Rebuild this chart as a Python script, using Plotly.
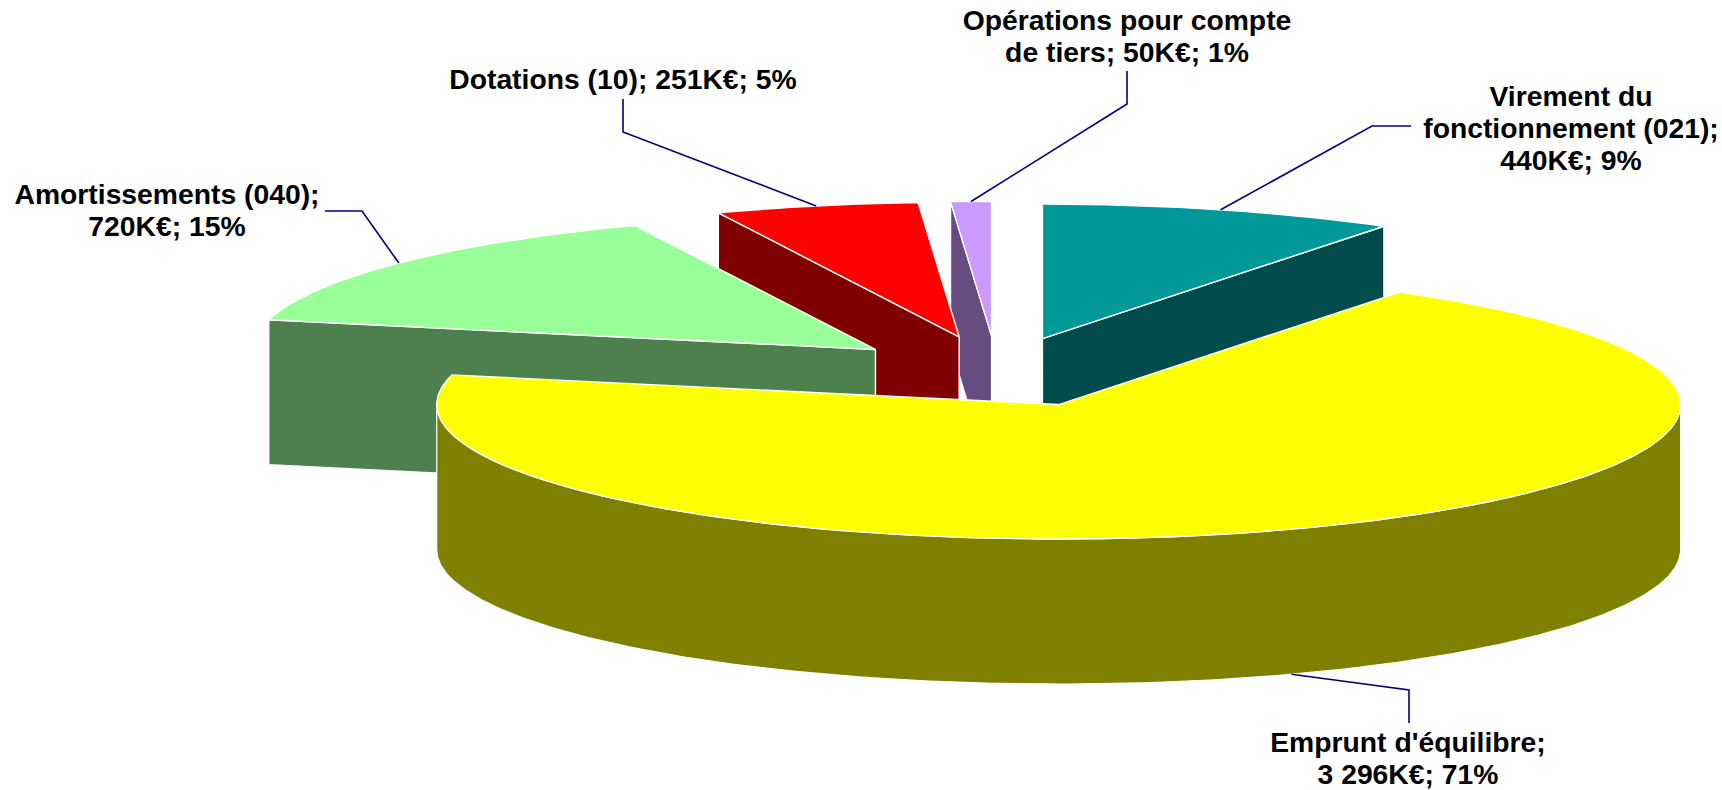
import math
import plotly.graph_objects as go

# ---------- data ----------
names = ["Virement du fonctionnement (021)", "Emprunt d'équilibre", "Amortissements (040)",
         "Dotations (10)", "Opérations pour compte de tiers"]
values = [440, 3296, 720, 251, 50]
top_colors = ["#009999", "#FFFF00", "#99FF99", "#FF0000", "#CC99FF"]
side_colors = ["#004C4C", "#808000", "#4D804D", "#800000", "#664C80"]
label_lines = [
    ["Virement du", "fonctionnement (021);", "440K€; 9%"],
    ["Emprunt d'équilibre;", "3 296K€; 71%"],
    ["Amortissements (040);", "720K€; 15%"],
    ["Dotations (10); 251K€; 5%"],
    ["Opérations pour compte", "de tiers; 50K€; 1%"],
]

# ---------- layout of the drawing (pixels of the page) ----------
W, H = 1722, 790
CX, CY = 997, 371.5     # centre of the un-exploded pie
RX, RY = 622, 134.5     # projected radii
DEPTH = 145             # height of the pie
EXPLODE = [0.255, 0.265, 0.255, 0.265, 0.265]   # explosion of each slice, share of the radius
label_centres = [(1571, 131), (1408, 761), (167, 213), (623, 82), (1127, 39)]
leader_elbows = [
    [(1411, 126), (1372, 126)],
    [(1409, 723), (1409, 690)],
    [(325, 211), (362, 211)],
    [(623, 99), (623, 132)],
    [(1127, 71), (1127, 104)],
]
LINE_GAP = 32
FONT = dict(family="Liberation Sans, Arial, sans-serif", size=28.3, color="#000000")

total = sum(values)
angles = [0]
for v in values:
    angles.append(angles[-1] + v / total * 360)


def rim(cx, cy, deg, dy=0):
    r = math.radians(deg)
    return cx + RX * math.sin(r), cy - RY * math.cos(r) + dy


def arc(cx, cy, a0, a1, dy=0):
    n = max(2, int(abs(a1 - a0) * 2))
    return [rim(cx, cy, a0 + (a1 - a0) * i / n, dy) for i in range(n + 1)]


def poly(fig, pts, fill, width=1.4, color="#FFFFFF"):
    fig.add_trace(go.Scatter(
        x=[p[0] for p in pts], y=[p[1] for p in pts], mode="lines", fill="toself",
        fillcolor=fill, line=dict(color=color, width=width), hoverinfo="skip", showlegend=False))


fig = go.Figure()
centres, mids = [], []
for i in range(len(values)):
    m = (angles[i] + angles[i + 1]) / 2
    mids.append(m)
    r = math.radians(m)
    centres.append((CX + EXPLODE[i] * RX * math.sin(r), CY - EXPLODE[i] * RY * math.cos(r)))


def draw(i):
    a0, a1 = angles[i], angles[i + 1]
    c = centres[i]
    # straight cut faces turned to the viewer
    for a, visible in ((a0, math.cos(math.radians(a0)) > 0 and math.sin(math.radians(a0)) < 0),
                       (a1, 0 < a1 < 90)):
        if visible:
            p = rim(*c, a)
            poly(fig, [c, p, (p[0], p[1] + DEPTH), (c[0], c[1] + DEPTH), c], side_colors[i])
    # outer wall on the front half
    f0, f1 = max(a0, 90), min(a1, 270)
    if f0 < f1:
        pts = arc(*c, f0, f1) + arc(*c, f1, f0, DEPTH)
        poly(fig, pts + pts[:1], side_colors[i], width=1.2)
    # top
    pts = [c] + arc(*c, a0, a1) + [c]
    poly(fig, pts, top_colors[i])


# painter's order, back to front
for i in (4, 3, 0, 2, 1):
    draw(i)

# leader lines
for i, elbow in enumerate(leader_elbows):
    c = centres[i]
    start = rim(*c, mids[i], DEPTH if 90 < mids[i] < 270 else 0)
    pts = elbow + [start]
    fig.add_trace(go.Scatter(x=[p[0] for p in pts], y=[p[1] for p in pts], mode="lines",
                             line=dict(color="#000080", width=1.6), hoverinfo="skip", showlegend=False))

# labels, one text point per line so that the line pitch is exact
for lines, (lx, ly) in zip(label_lines, label_centres):
    fig.add_trace(go.Scatter(
        x=[lx] * len(lines),
        y=[ly + (k - (len(lines) - 1) / 2) * LINE_GAP for k in range(len(lines))],
        mode="text", text=[f"<b>{t}</b>" for t in lines], textposition="middle center",
        textfont=FONT, hoverinfo="skip", showlegend=False, cliponaxis=False))

fig.update_layout(
    width=W, height=H, margin=dict(l=0, r=0, t=0, b=0), autosize=False,
    paper_bgcolor="#FFFFFF", plot_bgcolor="#FFFFFF", showlegend=False,
    xaxis=dict(range=[0, W], visible=False, fixedrange=True),
    yaxis=dict(range=[H, 0], visible=False, fixedrange=True),
)
fig.write_html("out.html", config={"displayModeBar": False},
               post_script="document.body.style.margin='0';document.body.style.overflow='hidden';")
